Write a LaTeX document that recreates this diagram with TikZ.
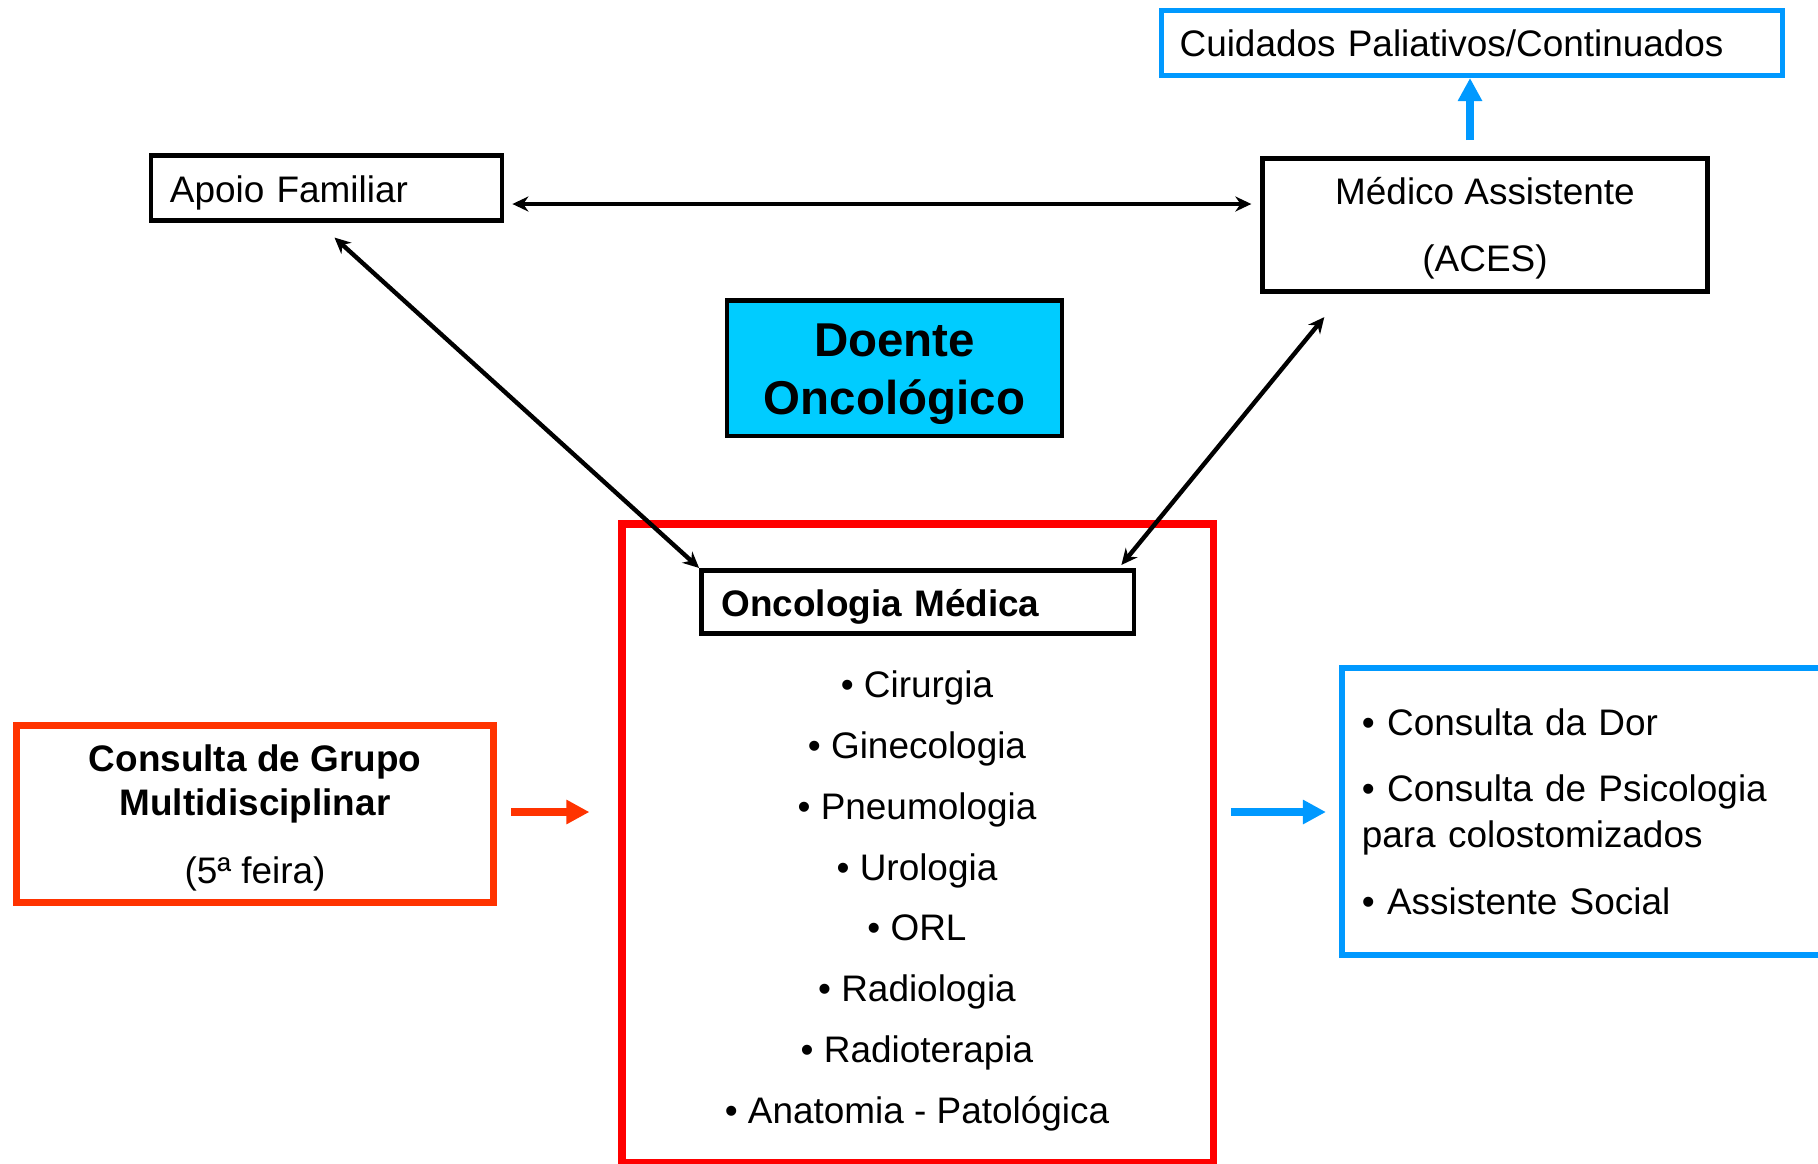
\documentclass[tikz,border=0pt]{standalone}
\usepackage{fontspec}
\setmainfont{Liberation Sans}
\usetikzlibrary{calc,arrows.meta}
\definecolor{azul}{RGB}{0,153,255}
\definecolor{ciano}{RGB}{0,204,255}
\definecolor{laranja}{RGB}{255,51,0}

\begin{document}
\begin{tikzpicture}
        [x=0.01cm,y=-0.01cm,
        every node/.style={shape=rectangle,inner sep=0pt,
          font=\fontsize{10.5pt}{13pt}\selectfont},
        box/.style={draw,line width=1.3pt},
        bluebox/.style={draw=azul,line width=1.55pt},
        link/.style={line width=1.25pt,
          {Stealth[length=0.16cm,width=0.15cm]}-{Stealth[length=0.16cm,width=0.15cm]}},
        fat/.style={line width=2.3pt,-{Triangle[length=0.23cm,width=0.23cm]}}]
        \useasboundingbox (0,0) rectangle (1818,1163);
        %%
        \node[bluebox,minimum height=0.645cm,inner xsep=0.18cm,
          text width=5.845cm,align=left,text height=0.357cm,text depth=0.08cm]
          (cuid) at (1472,43) {Cuidados Paliativos/Continuados};
        \node[box,minimum height=0.645cm,inner xsep=0.19cm,
          text width=3.13cm,align=left,text height=0.379cm,text depth=0.08cm]
          (apoio) at (326.5,188) {Apoio Familiar};
        \node[box,minimum width=4.445cm,minimum height=1.325cm,align=center,
          font=\fontsize{10.5pt}{19.1pt}\selectfont] (medico) at (1485,225)
          {\rule{0pt}{0.365cm}Médico Assistente\\(ACES)\rule[-0.1cm]{0pt}{0pt}};
        %%
        \node[box,fill=ciano,minimum width=3.35cm,minimum height=1.355cm,
          align=center,font=\bfseries\fontsize{13.5pt}{16.5pt}\selectfont]
          (doente) at (894.5,368)
          {\rule{0pt}{0.46cm}Doente\\Oncológico\rule[-0.12cm]{0pt}{0pt}};
        %%
        \node[draw=red,line width=2.15pt,minimum width=5.915cm,
          minimum height=6.39cm] (onc) at (917.75,843.5) {};
        \node[box,minimum height=0.635cm,inner xsep=0.2cm,text width=3.925cm,
          align=left,text height=0.369cm,text depth=0.08cm,
          font=\bfseries\fontsize{10.5pt}{13pt}\selectfont]
          (omed) at (917.75,602) {Oncologia Médica};
        \node[align=center,font=\fontsize{10.5pt}{17.3pt}\selectfont]
          (lista) at (917,901)
          {• Cirurgia\\• Ginecologia\\• Pneumologia\\• Urologia\\• ORL\\
           • Radiologia\\• Radioterapia\\• Anatomia - Patológica};
        %%
        \node[draw=laranja,line width=2pt,minimum width=4.775cm,
          minimum height=1.775cm,align=center,
          font=\fontsize{10.5pt}{12.5pt}\selectfont] (grupo) at (255,814)
          {\rule{0pt}{0.377cm}{\bfseries Consulta de Grupo}\\
           {\bfseries Multidisciplinar}\\[0.24cm]
           (5ª feira)\rule[-0.1cm]{0pt}{0pt}};
        \node[bluebox,minimum height=2.87cm,inner xsep=0.2cm,text width=4.48cm,
          align=left] (apoios) at (1586,811.5)
          {• Consulta da Dor\\[0.21cm]• Consulta de Psicologia\\
           para colostomizados\\[0.21cm]• Assistente Social};
        %%
        \coordinate (a1) at ($(apoio.east)+(8,16)$);
        \coordinate (m1) at ($(medico.west)+(-9,-21)$);
        \coordinate (a2) at ($(apoio.south)+(8,15)$);
        \coordinate (o1) at (omed.north west);
        \coordinate (m2) at ($(medico.south west)+(64,23.5)$);
        \coordinate (o2) at ($(omed.north east)+(-15,-3)$);
        \path
        \foreach \startNode/\endNode in {a1/m1, a2/o1, m2/o2}
        {
          (\startNode) edge[link] (\endNode)
        };
        %%
        \coordinate (u) at (1470,140);
        \draw[fat,azul] (u) -- (u |- cuid.south);
        \coordinate (g1) at ($(grupo.east)+(14,-2)$);
        \draw[fat,laranja] (g1) -- ++(78,0);
        \coordinate (r1) at ($(onc.east)+(13.5,-31.5)$);
        \draw[fat,azul] (r1) -- ++(95,0);
\end{tikzpicture}
\end{document}
